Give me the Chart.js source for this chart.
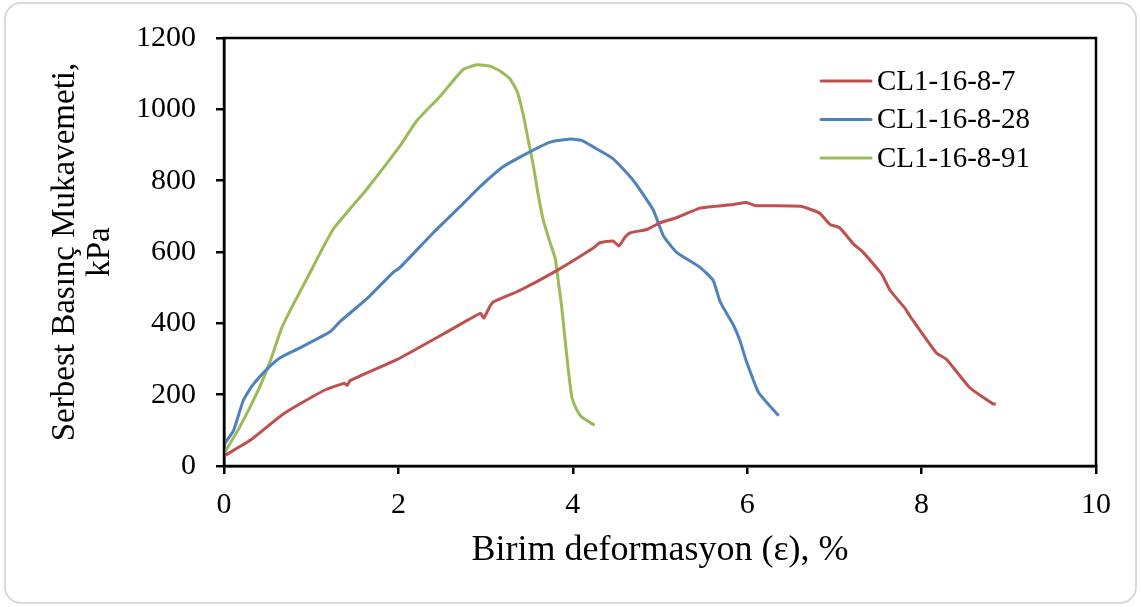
<!DOCTYPE html>
<html>
<head>
<meta charset="utf-8">
<script src="https://cdn.jsdelivr.net/npm/chart.js@4.4.1/dist/chart.umd.min.js"></script>
<style>
  html, body { margin: 0; padding: 0; background: #fff; }
  #wrap { width: 1141px; height: 607px; position: relative; }
</style>
</head>
<body>
<div id="wrap"><canvas id="myChart" width="1141" height="607"></canvas></div>
<script>
// CL1-16-8-7
const redX = [0, 0.30, 0.68, 1.14, 1.38, 1.41, 1.45, 1.98, 2.63, 2.94, 2.98, 3.05, 3.09, 3.39, 3.78, 4.24, 4.31, 4.46, 4.53, 4.60, 4.66, 4.85, 5.00, 5.19, 5.46, 5.84, 5.99, 6.10, 6.61, 6.83, 6.95, 7.06, 7.22, 7.33, 7.54, 7.64, 7.81, 7.87, 8.17, 8.29, 8.55, 8.82, 8.85];
const redY = [28, 72, 146, 211, 232, 226, 240, 298, 386, 428, 415, 448, 460, 492, 543, 612, 626, 631, 617, 642, 654, 663, 682, 696, 723, 733, 739, 730, 728, 709, 677, 668, 622, 599, 539, 492, 442, 419, 317, 298, 220, 174, 175];
// CL1-16-8-28
const blueX = [0, 0.01, 0.11, 0.22, 0.32, 0.49, 0.64, 0.87, 1.22, 1.33, 1.64, 1.94, 2.02, 2.40, 2.71, 2.94, 3.20, 3.47, 3.74, 3.97, 4.10, 4.24, 4.46, 4.69, 4.92, 5.04, 5.19, 5.46, 5.61, 5.69, 5.84, 5.92, 5.99, 6.13, 6.36];
const blueY = [50, 63, 100, 183, 224, 271, 303, 331, 377, 405, 469, 543, 557, 654, 728, 784, 839, 876, 908, 917, 913, 894, 862, 802, 719, 645, 599, 557, 520, 460, 396, 349, 294, 206, 141];
// CL1-16-8-91
const greenX = [0, 0.18, 0.39, 0.53, 0.66, 0.79, 0.95, 1.25, 1.63, 2.02, 2.21, 2.48, 2.74, 2.90, 3.05, 3.17, 3.28, 3.36, 3.43, 3.49, 3.55, 3.60, 3.66, 3.74, 3.80, 3.83, 3.87, 3.91, 3.95, 3.99, 4.04, 4.10, 4.25];
const greenY = [35, 109, 211, 294, 386, 451, 525, 663, 774, 898, 968, 1037, 1111, 1125, 1121, 1107, 1085, 1051, 987, 913, 839, 765, 691, 626, 580, 525, 451, 358, 266, 192, 160, 138, 114];

const seriesNames = ["CL1-16-8-7", "CL1-16-8-28", "CL1-16-8-91"];
const seriesColors = ["#C0504D", "#4F81BD", "#9BBB59"];

const xTitle = "Birim deformasyon (ε), %";
const yTitle = ["Serbest Basınç Mukavemeti,", "kPa"];

const pts = (xs, ys) => xs.map((x, i) => ({ x: x, y: ys[i] }));

const serif = "'Liberation Serif', 'Times New Roman', serif";

// frame around plot + rounded outer border + legend inside plot
const decor = {
  id: "decor",
  beforeDraw(chart) {
    const c = chart.ctx;
    c.save();
    c.strokeStyle = "#d9d9d9";
    c.lineWidth = 2;
    c.beginPath();
    c.roundRect(5, 3, 1131, 600, 16);
    c.stroke();
    c.restore();
  },
  afterDraw(chart) {
    const c = chart.ctx;
    const a = chart.chartArea;
    c.save();
    c.strokeStyle = "#000";
    c.lineWidth = 2.5;
    c.strokeRect(a.left, a.top, a.right - a.left, a.bottom - a.top);
    c.font = "29px " + serif;
    c.textBaseline = "middle";
    c.fillStyle = "#000";
    chart.data.datasets.forEach((ds, i) => {
      const y = a.top + 43 + i * 38.5;
      c.strokeStyle = ds.borderColor;
      c.lineWidth = 3;
      c.lineCap = "round";
      c.beginPath();
      c.moveTo(a.right - 275, y);
      c.lineTo(a.right - 225, y);
      c.stroke();
      c.fillText(ds.label, a.right - 219, y + 1);
    });
    c.restore();
  }
};

new Chart(document.getElementById("myChart"), {
  type: "scatter",
  data: {
    datasets: [
      { label: seriesNames[0], data: pts(redX, redY), borderColor: seriesColors[0] },
      { label: seriesNames[1], data: pts(blueX, blueY), borderColor: seriesColors[1] },
      { label: seriesNames[2], data: pts(greenX, greenY), borderColor: seriesColors[2] },
    ].map(d => Object.assign(d, { showLine: true, pointRadius: 0, borderWidth: 3, tension: 0.15, fill: false }))
  },
  options: {
    responsive: false,
    animation: false,
    layout: { padding: { left: 0, right: 45, top: 33, bottom: 0 } },
    plugins: { legend: { display: false }, tooltip: { enabled: false } },
    scales: {
      x: {
        type: "linear",
        min: 0,
        max: 10,
        afterFit: s => { s.height = 141; },
        ticks: { stepSize: 2, color: "#000", font: { family: serif, size: 30 }, padding: 13, maxRotation: 0, callback: v => String(v) },
        grid: { drawOnChartArea: false, drawTicks: true, tickLength: 8, color: "#000", lineWidth: 2.5 },
        border: { color: "#000", width: 2.5 },
        title: { display: true, text: xTitle, color: "#000", font: { family: serif, size: 36 }, padding: { top: 4, bottom: 35 } }
      },
      y: {
        type: "linear",
        min: 0,
        max: 1200,
        afterFit: s => { s.width = 224; },
        ticks: { stepSize: 200, color: "#000", font: { family: serif, size: 30 }, padding: 20, callback: v => String(v) },
        grid: { drawOnChartArea: false, drawTicks: true, tickLength: 8, color: "#000", lineWidth: 2.5 },
        border: { color: "#000", width: 2.5 },
        title: { display: true, text: yTitle, color: "#000", font: { family: serif, size: 33, lineHeight: 1.05 }, padding: { top: 48, bottom: 0 } }
      }
    }
  },
  plugins: [decor]
});
</script>
</body>
</html>
